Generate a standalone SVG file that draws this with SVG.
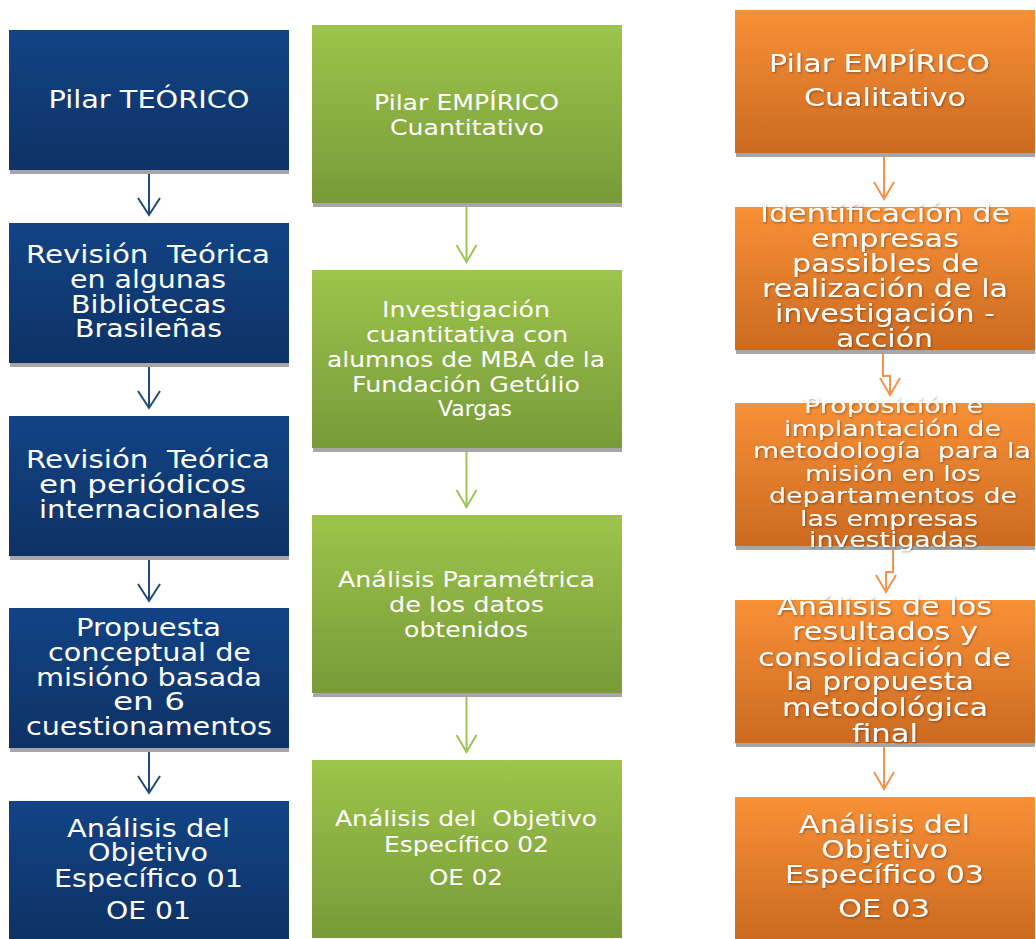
<svg xmlns="http://www.w3.org/2000/svg" width="1036" height="939" viewBox="0 0 1036 939">
  <defs>
    <linearGradient id="gBlue" x1="0" y1="0" x2="0" y2="1">
      <stop offset="0" stop-color="#124385"/>
      <stop offset="1" stop-color="#0e3265"/>
    </linearGradient>
    <linearGradient id="gGreen" x1="0" y1="0" x2="0" y2="1">
      <stop offset="0" stop-color="#9dc44b"/>
      <stop offset="1" stop-color="#789a38"/>
    </linearGradient>
    <linearGradient id="gOrange" x1="0" y1="0" x2="0" y2="1">
      <stop offset="0" stop-color="#f89036"/>
      <stop offset="1" stop-color="#cc6a20"/>
    </linearGradient>
    <filter id="tshadow" x="-10%" y="-30%" width="120%" height="160%">
      <feDropShadow dx="1" dy="1.2" stdDeviation="0.8" flood-color="#000" flood-opacity="0.35"/>
    </filter>
    <marker id="aBlue" viewBox="-20 -12 24 24" refX="0" refY="0" markerWidth="24" markerHeight="24" markerUnits="userSpaceOnUse" orient="auto">
      <path d="M-17,-11 L0,0 L-17,11" fill="none" stroke="#1f4a7e" stroke-width="2"/>
    </marker>
    <marker id="aGreen" viewBox="-20 -12 24 24" refX="0" refY="0" markerWidth="24" markerHeight="24" markerUnits="userSpaceOnUse" orient="auto">
      <path d="M-17,-10 L0,0 L-17,10" fill="none" stroke="#9bc45a" stroke-width="2"/>
    </marker>
    <marker id="aOrange" viewBox="-20 -12 24 24" refX="0" refY="0" markerWidth="24" markerHeight="24" markerUnits="userSpaceOnUse" orient="auto">
      <path d="M-17,-10 L0,0 L-17,10" fill="none" stroke="#f7924a" stroke-width="2"/>
    </marker>
  </defs>
  <style>
    .shadow { fill: #a6a6a6; }
    .blue { fill: url(#gBlue); }
    .green { fill: url(#gGreen); }
    .orange { fill: url(#gOrange); }
    text { font-family: "DejaVu Sans", Verdana, sans-serif; fill: #ffffff; text-anchor: middle; white-space: pre; }
    .tb { font-size: 24px; }
    .tg { font-size: 22px; }
    .to { font-size: 24.5px; }
    .tos { font-size: 20.5px; }
    .ot text { filter: url(#tshadow); }
    .cb { stroke: #1f4a7e; stroke-width: 2; fill: none; marker-end: url(#aBlue); }
    .cg { stroke: #9bc45a; stroke-width: 2; fill: none; marker-end: url(#aGreen); }
    .co { stroke: #f7924a; stroke-width: 2; fill: none; marker-end: url(#aOrange); }
  </style>

  <rect width="1036" height="939" fill="#ffffff"/>

  <!-- connectors -->
  <g id="connectors">
    <path class="cb" d="M149,170 V215"/>
    <path class="cb" d="M149,363 V408"/>
    <path class="cb" d="M149,556 V601"/>
    <path class="cb" d="M149,748 V793"/>
    <path class="cg" d="M466.5,203 V262"/>
    <path class="cg" d="M466.5,448 V507"/>
    <path class="cg" d="M466.5,693 V752"/>
    <path class="co" d="M884,153 V199"/>
    <path class="co" d="M883,350 V376 H890 V395"/>
    <path class="co" d="M893,546 V572 H886 V592"/>
    <path class="co" d="M884,743 V789"/>
  </g>

  <!-- theoretical pillar -->
  <g id="teorico">
    <rect class="shadow" x="10" y="170" width="279" height="4"/>
    <rect class="blue" x="9" y="30" width="280" height="140"/>
    <text class="tb" x="149" y="108" textLength="201" lengthAdjust="spacingAndGlyphs">Pilar TEÓRICO</text>
  </g>
  <g id="revision-bibliotecas">
    <rect class="shadow" x="10" y="363" width="279" height="4"/>
    <rect class="blue" x="9" y="223" width="280" height="140"/>
    <text class="tb" x="148" y="263" textLength="244" lengthAdjust="spacingAndGlyphs">Revisión  Teórica</text>
    <text class="tb" x="148" y="288" textLength="156" lengthAdjust="spacingAndGlyphs">en algunas</text>
    <text class="tb" x="148.5" y="312.5" textLength="155" lengthAdjust="spacingAndGlyphs">Bibliotecas</text>
    <text class="tb" x="148.5" y="336.5" textLength="147" lengthAdjust="spacingAndGlyphs">Brasileñas</text>
  </g>
  <g id="revision-periodicos">
    <rect class="shadow" x="10" y="556" width="279" height="4"/>
    <rect class="blue" x="9" y="416" width="280" height="140"/>
    <text class="tb" x="148" y="468" textLength="244" lengthAdjust="spacingAndGlyphs">Revisión  Teórica</text>
    <text class="tb" x="142.5" y="493" textLength="207" lengthAdjust="spacingAndGlyphs">en periódicos</text>
    <text class="tb" x="149.5" y="518" textLength="221" lengthAdjust="spacingAndGlyphs">internacionales</text>
  </g>
  <g id="propuesta">
    <rect class="shadow" x="10" y="748" width="279" height="4"/>
    <rect class="blue" x="9" y="608" width="280" height="140"/>
    <text class="tb" x="148.5" y="636" textLength="145" lengthAdjust="spacingAndGlyphs">Propuesta</text>
    <text class="tb" x="149.5" y="661" textLength="203" lengthAdjust="spacingAndGlyphs">conceptual de</text>
    <text class="tb" x="149" y="686" textLength="226" lengthAdjust="spacingAndGlyphs">misióno basada</text>
    <text class="tb" x="149" y="710" textLength="72" lengthAdjust="spacingAndGlyphs">en 6</text>
    <text class="tb" x="149" y="735" textLength="246" lengthAdjust="spacingAndGlyphs">cuestionamentos</text>
  </g>
  <g id="oe01">
    <rect class="blue" x="9" y="801" width="280" height="138"/>
    <text class="tb" x="148.5" y="837" textLength="163" lengthAdjust="spacingAndGlyphs">Análisis del</text>
    <text class="tb" x="148" y="861" textLength="120" lengthAdjust="spacingAndGlyphs">Objetivo</text>
    <text class="tb" x="148.5" y="887" textLength="189" lengthAdjust="spacingAndGlyphs">Específico 01</text>
    <text class="tb" x="148.5" y="919" textLength="85" lengthAdjust="spacingAndGlyphs">OE 01</text>
  </g>

  <!-- quantitative empirical pillar -->
  <g id="empirico-cuantitativo">
    <rect class="shadow" x="313" y="203" width="309" height="4"/>
    <rect class="green" x="312" y="25" width="310" height="178"/>
    <text class="tg" x="466.5" y="110" textLength="185" lengthAdjust="spacingAndGlyphs">Pilar EMPÍRICO</text>
    <text class="tg" x="467" y="135" textLength="154" lengthAdjust="spacingAndGlyphs">Cuantitativo</text>
  </g>
  <g id="investigacion">
    <rect class="shadow" x="313" y="448" width="309" height="4"/>
    <rect class="green" x="312" y="270" width="310" height="178"/>
    <text class="tg" x="466" y="317" textLength="168" lengthAdjust="spacingAndGlyphs">Investigación</text>
    <text class="tg" x="467" y="342" textLength="202" lengthAdjust="spacingAndGlyphs">cuantitativa con</text>
    <text class="tg" x="466" y="367" textLength="278" lengthAdjust="spacingAndGlyphs">alumnos de MBA de la</text>
    <text class="tg" x="466" y="392" textLength="228" lengthAdjust="spacingAndGlyphs">Fundación Getúlio</text>
    <text class="tg" x="475" y="416" textLength="74" lengthAdjust="spacingAndGlyphs">Vargas</text>
  </g>
  <g id="analisis-parametrica">
    <rect class="shadow" x="313" y="693" width="309" height="4"/>
    <rect class="green" x="312" y="515" width="310" height="178"/>
    <text class="tg" x="466.5" y="587" textLength="257" lengthAdjust="spacingAndGlyphs">Análisis Paramétrica</text>
    <text class="tg" x="466.5" y="612" textLength="155" lengthAdjust="spacingAndGlyphs">de los datos</text>
    <text class="tg" x="466" y="637" textLength="124" lengthAdjust="spacingAndGlyphs">obtenidos</text>
  </g>
  <g id="oe02">
    <rect class="green" x="312" y="760" width="310" height="178"/>
    <text class="tg" x="466" y="826" textLength="262" lengthAdjust="spacingAndGlyphs">Análisis del  Objetivo</text>
    <text class="tg" x="466.5" y="852" textLength="165" lengthAdjust="spacingAndGlyphs">Específico 02</text>
    <text class="tg" x="466" y="885" textLength="74" lengthAdjust="spacingAndGlyphs">OE 02</text>
  </g>

  <!-- qualitative empirical pillar -->
  <g id="empirico-cualitativo" class="ot">
    <rect class="shadow" x="736" y="153" width="299" height="4"/>
    <rect class="orange" x="735" y="10" width="300" height="143"/>
    <text class="to" x="879.5" y="72" textLength="221" lengthAdjust="spacingAndGlyphs">Pilar EMPÍRICO</text>
    <text class="to" x="885" y="106" textLength="162" lengthAdjust="spacingAndGlyphs">Cualitativo</text>
  </g>
  <g id="identificacion" class="ot">
    <rect class="shadow" x="736" y="350" width="299" height="4"/>
    <rect class="orange" x="735" y="207" width="300" height="143"/>
    <text class="to" x="885" y="222" textLength="250" lengthAdjust="spacingAndGlyphs">Identificación de</text>
    <text class="to" x="885" y="247" textLength="148" lengthAdjust="spacingAndGlyphs">empresas</text>
    <text class="to" x="885.5" y="272" textLength="187" lengthAdjust="spacingAndGlyphs">passibles de</text>
    <text class="to" x="885" y="297" textLength="246" lengthAdjust="spacingAndGlyphs">realización de la</text>
    <text class="to" x="885" y="322" textLength="220" lengthAdjust="spacingAndGlyphs">investigación -</text>
    <text class="to" x="884.5" y="347" textLength="97" lengthAdjust="spacingAndGlyphs">acción</text>
  </g>
  <g id="proposicion" class="ot">
    <rect class="shadow" x="736" y="546" width="299" height="4"/>
    <rect class="orange" x="735" y="403" width="300" height="143"/>
    <text class="tos" x="893.5" y="413" textLength="179" lengthAdjust="spacingAndGlyphs">Proposición e</text>
    <text class="tos" x="892.5" y="436" textLength="217" lengthAdjust="spacingAndGlyphs">implantación de</text>
    <text class="tos" x="892" y="458" textLength="278" lengthAdjust="spacingAndGlyphs">metodología  para la</text>
    <text class="tos" x="893" y="481" textLength="176" lengthAdjust="spacingAndGlyphs">misión en los</text>
    <text class="tos" x="893" y="503" textLength="248" lengthAdjust="spacingAndGlyphs">departamentos de</text>
    <text class="tos" x="889" y="526" textLength="178" lengthAdjust="spacingAndGlyphs">las empresas</text>
    <text class="tos" x="893.5" y="547" textLength="169" lengthAdjust="spacingAndGlyphs">investigadas</text>
  </g>
  <g id="analisis-resultados" class="ot">
    <rect class="shadow" x="736" y="743" width="299" height="4"/>
    <rect class="orange" x="735" y="600" width="300" height="143"/>
    <text class="to" x="884.5" y="615" textLength="215" lengthAdjust="spacingAndGlyphs">Análisis de los</text>
    <text class="to" x="885" y="640" textLength="186" lengthAdjust="spacingAndGlyphs">resultados y</text>
    <text class="to" x="884.5" y="666" textLength="253" lengthAdjust="spacingAndGlyphs">consolidación de</text>
    <text class="to" x="880" y="690" textLength="188" lengthAdjust="spacingAndGlyphs">la propuesta</text>
    <text class="to" x="885" y="716" textLength="206" lengthAdjust="spacingAndGlyphs">metodológica</text>
    <text class="to" x="885" y="742" textLength="66" lengthAdjust="spacingAndGlyphs">final</text>
  </g>
  <g id="oe03" class="ot">
    <rect class="orange" x="735" y="797" width="300" height="142"/>
    <text class="to" x="884.5" y="833" textLength="171" lengthAdjust="spacingAndGlyphs">Análisis del</text>
    <text class="to" x="884.5" y="858" textLength="127" lengthAdjust="spacingAndGlyphs">Objetivo</text>
    <text class="to" x="884.5" y="883" textLength="199" lengthAdjust="spacingAndGlyphs">Específico 03</text>
    <text class="to" x="884" y="917" textLength="92" lengthAdjust="spacingAndGlyphs">OE 03</text>
  </g>
</svg>
